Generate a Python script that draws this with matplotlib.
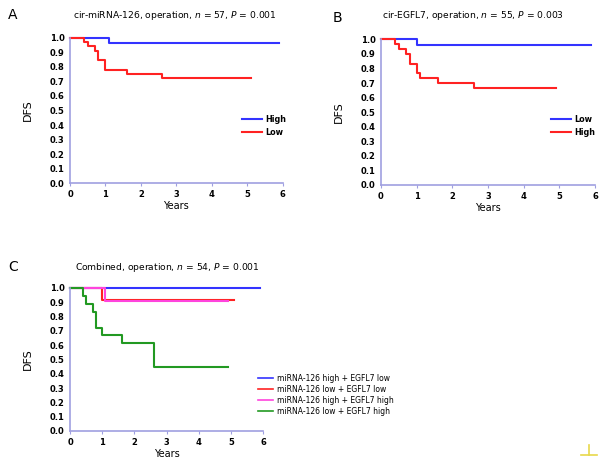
import matplotlib
matplotlib.use("Agg")
import matplotlib.pyplot as plt
from matplotlib.lines import Line2D

# ---- data ----
a_high_t = [0, 1.1, 5.9]
a_high_s = [1.0, 0.963, 0.963]
a_low_t = [0, 0.4, 0.5, 0.7, 0.8, 1.0, 1.6, 2.6, 5.1]
a_low_s = [1.0, 0.97, 0.94, 0.91, 0.845, 0.78, 0.75, 0.72, 0.72]

b_low_t = [0, 1.0, 5.9]
b_low_s = [1.0, 0.963, 0.963]
b_high_t = [0, 0.4, 0.5, 0.7, 0.8, 1.0, 1.1, 1.6, 2.6, 4.9]
b_high_s = [1.0, 0.967, 0.933, 0.9, 0.833, 0.767, 0.733, 0.70, 0.667, 0.667]

c_t = {
    "miRNA-126 high + EGFL7 low": [0, 5.9],
    "miRNA-126 low + EGFL7 low": [0, 1.0, 5.1],
    "miRNA-126 high + EGFL7 high": [0, 1.1, 4.9],
    "miRNA-126 low + EGFL7 high": [0, 0.4, 0.5, 0.7, 0.8, 1.0, 1.6, 2.6, 4.9],
}
c_s = {
    "miRNA-126 high + EGFL7 low": [1.0, 1.0],
    "miRNA-126 low + EGFL7 low": [1.0, 0.917, 0.917],
    "miRNA-126 high + EGFL7 high": [1.0, 0.909, 0.909],
    "miRNA-126 low + EGFL7 high": [1.0, 0.944, 0.889, 0.833, 0.722, 0.667, 0.611, 0.45, 0.45],
}
c_colors = ["#3333ff", "#ff2222", "#ff44dd", "#229922"]

yticks = [round(i * 0.1, 1) for i in range(11)]
xticks = list(range(7))

W, H = 606, 466
fig = plt.figure(figsize=(W / 100, H / 100), dpi=100)

spine_col = "#9f9fe0"


def make_ax(x0, x6, y1, y0):
    ax = fig.add_axes([x0 / W, 1 - y0 / H, (x6 - x0) / W, (y0 - y1) / H])
    ax.set_xlim(0, 6)
    ax.set_ylim(0, 1.0)
    for s in ["top", "right"]:
        ax.spines[s].set_visible(False)
    for s in ["left", "bottom"]:
        ax.spines[s].set_color(spine_col)
        ax.spines[s].set_linewidth(1.2)
    ax.set_xticks(xticks)
    ax.set_yticks(yticks)
    ax.set_yticklabels([f"{v:.1f}" for v in yticks])
    ax.tick_params(axis="both", labelsize=6, length=2.5, width=0.8,
                   color=spine_col, pad=2.5)
    ax.tick_params(axis="y", length=0, pad=4)
    for lab in ax.get_xticklabels() + ax.get_yticklabels():
        lab.set_fontweight("bold")
    ax.set_xlabel("Years", fontsize=7, labelpad=1.5)
    ax.set_ylabel("DFS", fontsize=8, labelpad=12)
    return ax


def kmplot(ax, t, s, color, label):
    ax.step(t, s, where="post", color=color, lw=1.5, label=label, clip_on=False)


def add_legend(ax, x_px, y_px, x0, x6, y1, y0, **kw):
    # place legend upper-left at given pixel in figure
    leg = ax.legend(loc="upper left",
                    bbox_to_anchor=(x_px / W, 1 - y_px / H),
                    bbox_transform=fig.transFigure, frameon=False,
                    borderpad=0, borderaxespad=0, **kw)
    return leg


# Panel A
axA = make_ax(70, 282.7, 37.7, 183.3)
kmplot(axA, a_high_t, a_high_s, "#3333ff", "High")
kmplot(axA, a_low_t, a_low_s, "#ff2222", "Low")
legA = add_legend(axA, 242, 115, 0, 0, 0, 0, fontsize=5.8, handlelength=2.5,
                  handletextpad=0.35, labelspacing=0.45)
for t in legA.get_texts():
    t.set_fontweight("bold")
fig.text(8 / W, 1 - 15 / H, "A", fontsize=10, va="center", ha="left")
fig.text(175 / W, 1 - 15 / H, "cir-miRNA-126, operation, $\\it{n}$ = 57, $\\it{P}$ = 0.001",
         fontsize=6.6, va="center", ha="center")

# Panel B
axB = make_ax(381, 595, 39.3, 185)
kmplot(axB, b_low_t, b_low_s, "#3333ff", "Low")
kmplot(axB, b_high_t, b_high_s, "#ff2222", "High")
legB = add_legend(axB, 551, 115, 0, 0, 0, 0, fontsize=5.8, handlelength=2.5,
                  handletextpad=0.35, labelspacing=0.45)
for t in legB.get_texts():
    t.set_fontweight("bold")
fig.text(333 / W, 1 - 18 / H, "B", fontsize=10, va="center", ha="left")
fig.text(473 / W, 1 - 15 / H, "cir-EGFL7, operation, $\\it{n}$ = 55, $\\it{P}$ = 0.003",
         fontsize=6.6, va="center", ha="center")

# Panel C
axC = make_ax(70, 263.3, 287.7, 431)
for (lab, t), col in zip(c_t.items(), c_colors):
    kmplot(axC, t, c_s[lab], col, lab)
legC = add_legend(axC, 258, 374, 0, 0, 0, 0, fontsize=5.5, handlelength=2.0,
                  handletextpad=0.5, labelspacing=0.25)
for h in legC.get_lines():
    h.set_linewidth(1.2)
fig.text(8 / W, 1 - 267 / H, "C", fontsize=10, va="center", ha="left")
fig.text(75 / W, 1 - 267 / H, "Combined, operation, $\\it{n}$ = 54, $\\it{P}$ = 0.001",
         fontsize=6.6, va="center", ha="left")

# small logo mark at bottom right
fig.add_artist(Line2D([581 / W, 597 / W], [1 - 455 / H, 1 - 455 / H],
                      color="#e8d84a", lw=1.2, transform=fig.transFigure))
fig.add_artist(Line2D([589 / W, 589 / W], [1 - 455 / H, 1 - 445 / H],
                      color="#e8d84a", lw=1.2, transform=fig.transFigure))

fig.savefig("out.png", dpi=100)
